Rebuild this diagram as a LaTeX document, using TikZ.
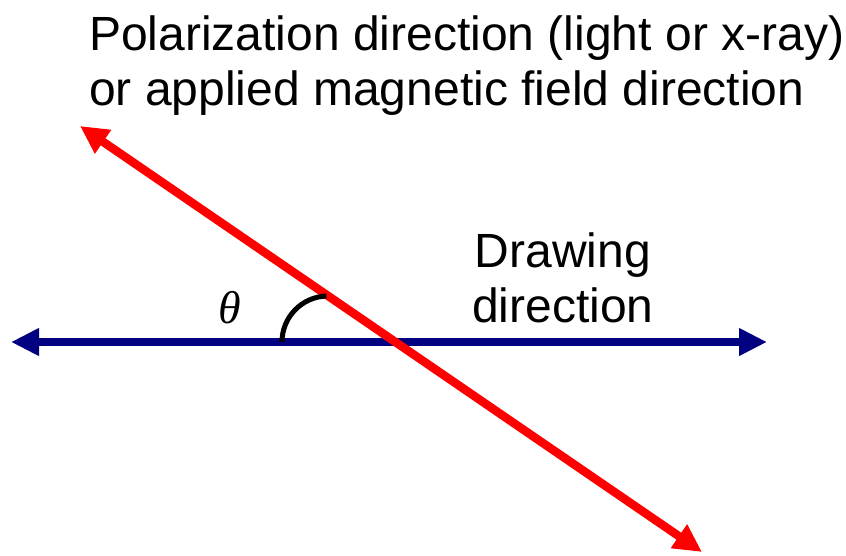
\documentclass[tikz,border=0pt]{standalone}
\usepackage{fontspec}
\setmainfont{Liberation Sans}
\newfontfamily\thetafont{Liberation Serif}
\usepackage{tikz}
\usetikzlibrary{arrows.meta}
\definecolor{navyline}{RGB}{0,0,128}
\tikzset{
  drawaxis/.style={{Triangle[length=28pt,width=26pt]}-{Triangle[length=28pt,width=26pt]}, line width=8.5pt, draw=navyline},
  polaxis/.style={{Triangle[length=28pt,width=27pt]}-{Triangle[length=28pt,width=27pt]}, line width=8.5pt, draw=red},
  anglearc/.style={line width=5pt, draw=black},
  caption/.style={inner sep=0pt, font=\fontsize{48}{55}\selectfont},
}
\begin{document}
\begin{tikzpicture}[x=1pt,y=-1pt]
\useasboundingbox (0,0) rectangle (846,555);
% end points of the two directions
\coordinate (dl) at (11,342);
\coordinate (dr) at (767,342);
\coordinate (pt) at (80,126);
\coordinate (pb) at (702,552);
\draw[drawaxis] (dl) -- (dr);
\draw[polaxis] (pt) -- (pb);
% angle between them
\coordinate (arcstart) at (282,342);
\draw[anglearc] (arcstart) arc[start angle=180, end angle=268, radius=46];
\node[caption, anchor=north west, align=left] (pol) at (89,16)
  {Polarization direction (light or x-ray)\\or applied magnetic field direction};
\node[caption, anchor=north, align=center] (drw) at (563,233) {Drawing\\direction};
\node[inner sep=0pt, font=\thetafont\itshape\fontsize{46}{50}\selectfont] (theta) at (229.5,308) {θ};
\end{tikzpicture}
\end{document}
